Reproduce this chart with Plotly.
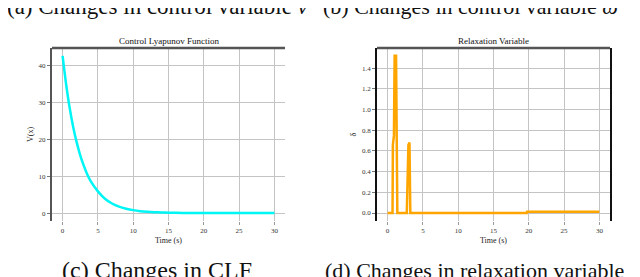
import plotly.graph_objects as go

# ---- data ----
clf_t = [0, 0.5, 1, 1.5, 2, 2.5, 3, 3.5, 4, 5, 6, 7, 8, 9, 10, 11, 12, 13, 14, 15, 17, 20, 25, 30]
clf_v = [42.7, 35.0, 28.6, 23.4, 19.2, 15.7, 12.9, 10.5, 8.6, 5.9, 3.9, 2.6, 1.75, 1.2, 0.8,
         0.53, 0.36, 0.24, 0.16, 0.11, 0.05, 0.02, 0.0, 0.0]

rel_t = [0, 0.7, 0.75, 0.9, 0.97, 1.0, 1.2, 1.27, 1.33, 1.38, 2.72, 2.8, 2.85, 2.95, 3.1, 3.17, 3.22,
         19.7, 19.75, 30]
rel_v = [0.0, 0.0, 0.66, 0.75, 1.3, 1.52, 1.52, 0.8, 0.3, 0.0, 0.0, 0.35, 0.42, 0.66, 0.68, 0.3, 0.0,
         0.0, 0.012, 0.012]

x_ticks = [0, 5, 10, 15, 20, 25, 30]
clf_yticks = [0, 10, 20, 30, 40]
rel_yticks = [0.0, 0.2, 0.4, 0.6, 0.8, 1.0, 1.2, 1.4]

W, H = 640, 277
FONT = "Liberation Serif, Times New Roman, serif"

fig = go.Figure()
fig.add_trace(go.Scatter(x=clf_t, y=clf_v, mode="lines", line=dict(color="#00f5f5", width=2.5, shape="spline", smoothing=0.6),
                         xaxis="x", yaxis="y", showlegend=False))
fig.add_trace(go.Scatter(x=rel_t, y=rel_v, mode="lines", line=dict(color="#ffa500", width=2.5),
                         xaxis="x2", yaxis="y2", showlegend=False))

ydom = [1 - 213 / H, 1 - 40 / H]
tickfont = dict(family=FONT, size=7, color="#333")
common_x = dict(range=[-1.5, 31.5], tickvals=x_ticks, showgrid=True, gridcolor="#c4c4c4", gridwidth=1,
                zeroline=False, showline=False, ticks="outside", ticklen=3, tickcolor="#999",
                tickfont=tickfont, title=dict(text="Time (s)", font=dict(family=FONT, size=8, color="#222"), standoff=2))

def cap(size):
    return dict(family=FONT, size=size, color="#111")

fig.update_layout(
    width=W, height=H, margin=dict(l=0, r=0, t=0, b=0),
    paper_bgcolor="white", plot_bgcolor="white",
    xaxis=dict(domain=[44 / W, 277 / W], anchor="y", **common_x),
    yaxis=dict(domain=ydom, anchor="x", range=[-2.15, 44.85], tickvals=clf_yticks,
               showgrid=True, gridcolor="#c4c4c4", zeroline=False, showline=True, linecolor="#555", linewidth=2,
               ticks="outside", ticklen=3, tickcolor="#777", tickfont=tickfont,
               title=dict(text="V(x)", font=dict(family=FONT, size=8, color="#222"), standoff=4)),
    xaxis2=dict(domain=[369 / W, 602 / W], anchor="y2", **common_x),
    yaxis2=dict(domain=ydom, anchor="x2", range=[-0.077, 1.594], tickvals=rel_yticks, tickformat=".1f",
                showgrid=True, gridcolor="#c4c4c4", zeroline=False, showline=True, mirror=True,
                linecolor="#111", linewidth=1.5,
                ticks="outside", ticklen=3, tickcolor="#777", tickfont=tickfont,
                title=dict(text="δ", font=dict(family=FONT, size=8, color="#222"), standoff=4)),
    shapes=[
        dict(type="line", xref="x domain", yref="y domain", x0=0, x1=1, y0=1, y1=1,
             line=dict(color="#555", width=2.5)),
        dict(type="line", xref="x2 domain", yref="y2 domain", x0=0, x1=1, y0=1, y1=1,
             line=dict(color="#555", width=2.5)),
    ],
    annotations=[
        dict(text="Control Lyapunov Function", xref="x domain", yref="paper", x=0.5, y=1 - 33 / H,
             showarrow=False, font=dict(family=FONT, size=9, color="#111"), xanchor="center", yanchor="middle"),
        dict(text="Relaxation Variable", xref="x2 domain", yref="paper", x=0.5, y=1 - 33 / H,
             showarrow=False, font=dict(family=FONT, size=9, color="#111"), xanchor="center", yanchor="middle"),
        dict(text="(a) Changes in control variable <i>v</i>", xref="paper", yref="paper", x=150 / W, y=1 + 1 / H,
             showarrow=False, font=cap(23), xanchor="center", yanchor="middle"),
        dict(text="(b) Changes in control variable <i>ω</i>", xref="paper", yref="paper", x=612 / W, y=1 + 1 / H,
             showarrow=False, font=cap(22), xanchor="right", yanchor="middle"),
        dict(text="(c) Changes in CLF", xref="paper", yref="paper", x=149 / W, y=1 - 262 / H,
             showarrow=False, font=cap(24), xanchor="center", yanchor="middle"),
        dict(text="(d) Changes in relaxation variable", xref="paper", yref="paper", x=618 / W, y=1 - 262 / H,
             showarrow=False, font=cap(22), xanchor="right", yanchor="middle"),
    ],
)

fig.write_html("out.html")
